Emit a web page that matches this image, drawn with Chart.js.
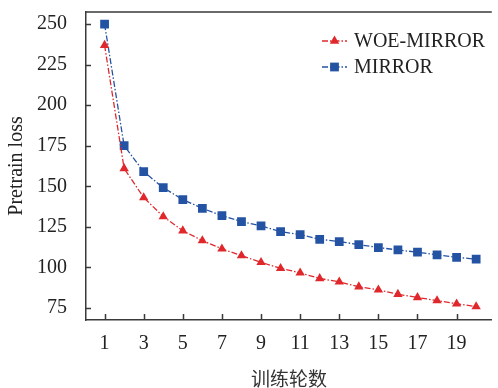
<!DOCTYPE html>
<html><head><meta charset="utf-8">
<script src="https://cdn.jsdelivr.net/npm/chart.js"></script>
<style>html,body{margin:0;padding:0;background:#fff}</style>
</head><body>
<canvas id="c" width="498" height="388" style="width:498px;height:388px;display:block"></canvas>
<script>
const epochs = [1,2,3,4,5,6,7,8,9,10,11,12,13,14,15,16,17,18,19,20];
const woeMirror = [237,161,143,131.3,122.6,116.5,111.4,107.2,103.1,99.4,96.6,93.1,91,88,86.1,83.4,81.4,79.5,77.5,75.8];
const mirror = [250,175,159,149.1,141.8,136.4,131.9,128.2,125.5,122,120.2,117.3,115.9,114,112.2,110.7,109.3,107.7,106.2,105];
const xTickValues = [1,3,5,7,9,11,13,15,17,19];
const yTickValues = [75,100,125,150,175,200,225,250];
const seriesNames = ['WOE-MIRROR','MIRROR'];
const xTitle = '训练轮数';
const yTitle = 'Pretrain loss';

const RED = '#e0282c', BLUE = '#2453a3';
const AXIS = '#3a3a3a';
const SERIF = '"Liberation Serif","Times New Roman",serif';

function drawMarker(ctx, style, x, y, r, color) {
  ctx.save();
  ctx.setLineDash([]);
  ctx.fillStyle = color;
  ctx.beginPath();
  if (style === 'rect') {
    const s = Math.SQRT1_2 * r;
    ctx.rect(x - s, y - s, 2*s, 2*s);
  } else {
    let rad = 0;
    ctx.moveTo(x + Math.sin(rad)*r, y - Math.cos(rad)*r);
    rad += 2*Math.PI/3;
    ctx.lineTo(x + Math.sin(rad)*r, y - Math.cos(rad)*r);
    rad += 2*Math.PI/3;
    ctx.lineTo(x + Math.sin(rad)*r, y - Math.cos(rad)*r);
    ctx.closePath();
  }
  ctx.fill();
  ctx.restore();
}

const decor = {
  id: 'decor',
  afterDraw(chart) {
    const {ctx, chartArea: a, scales} = chart;
    const x = scales.x, y = scales.y;
    ctx.save();
    ctx.setLineDash([]);
    ctx.strokeStyle = AXIS;
    ctx.lineWidth = 1.5;
    ctx.beginPath();
    ctx.moveTo(a.left - 0.75, a.top);
    ctx.lineTo(a.right, a.top);
    for (const v of yTickValues) {
      const py = Math.round(y.getPixelForValue(v)) + 0.5;
      ctx.moveTo(a.left, py); ctx.lineTo(a.left + 5, py);
    }
    for (const v of xTickValues) {
      const px = Math.round(x.getPixelForValue(v)) + 0.5;
      ctx.moveTo(px, a.bottom); ctx.lineTo(px, a.bottom - 6);
    }
    ctx.stroke();
    ctx.restore();

    const rows = [41, 67];
    chart.data.datasets.forEach((ds, i) => {
      const yy = rows[i];
      ctx.save();
      ctx.strokeStyle = ds.borderColor;
      ctx.lineWidth = 1.5;
      ctx.setLineDash(ds.borderDash);
      ctx.beginPath();
      ctx.moveTo(322, yy); ctx.lineTo(347, yy);
      ctx.stroke();
      ctx.restore();
      drawMarker(ctx, ds.pointStyle, 334.5, yy, ds.pointRadius, ds.pointBackgroundColor);
      ctx.save();
      ctx.fillStyle = '#222';
      ctx.font = '20px ' + SERIF;
      ctx.textBaseline = 'middle';
      ctx.fillText(ds.label, 354, yy + 1);
      ctx.restore();
    });
  }
};

new Chart(document.getElementById('c'), {
  type: 'line',
  data: {
    labels: epochs,
    datasets: [
      {
        label: seriesNames[0],
        data: epochs.map((e, i) => ({x: e, y: woeMirror[i]})),
        borderColor: RED,
        backgroundColor: RED,
        pointBackgroundColor: RED,
        pointBorderColor: RED,
        pointBorderWidth: 0,
        pointStyle: 'triangle',
        pointRadius: 5.4,
        borderWidth: 1.3,
        borderDash: [6, 2, 1.5, 2],
        tension: 0
      },
      {
        label: seriesNames[1],
        data: epochs.map((e, i) => ({x: e, y: mirror[i]})),
        borderColor: BLUE,
        backgroundColor: BLUE,
        pointBackgroundColor: BLUE,
        pointBorderColor: BLUE,
        pointBorderWidth: 0,
        pointStyle: 'rect',
        pointRadius: 6.2,
        borderWidth: 1.3,
        borderDash: [6, 2, 1.5, 2],
        tension: 0
      }
    ]
  },
  options: {
    responsive: false,
    animation: false,
    devicePixelRatio: 1,
    layout: {padding: {top: 12, right: 0, left: 0, bottom: 0}},
    plugins: {legend: {display: false}, tooltip: {enabled: false}},
    scales: {
      x: {
        type: 'linear',
        min: 0.05,
        max: 20.8,
        afterBuildTicks: s => { s.ticks = xTickValues.map(v => ({value: v})); },
        afterFit: s => { s.height = 68; s.paddingLeft = 0; s.paddingRight = 0; s.paddingTop = 0; s.paddingBottom = 0; },
        grid: {display: false, drawTicks: false},
        border: {display: true, color: AXIS, width: 1.5},
        ticks: {color: '#222', font: {family: SERIF, size: 20}, padding: 12, maxRotation: 0, autoSkip: false},
        title: {display: true, text: xTitle, color: '#333', font: {family: '"Noto Sans CJK SC", sans-serif', size: 19, lineHeight: 1}, padding: {top: 0, bottom: 0}}
      },
      y: {
        min: 67.5,
        max: 257.5,
        afterBuildTicks: s => { s.ticks = yTickValues.map(v => ({value: v})); },
        afterFit: s => { s.width = 86; s.paddingLeft = 0; s.paddingRight = 0; s.paddingTop = 0; s.paddingBottom = 0; },
        grid: {display: false, drawTicks: false},
        border: {display: true, color: AXIS, width: 1.5},
        ticks: {color: '#222', font: {family: SERIF, size: 20}, padding: 19},
        title: {display: true, text: yTitle, color: '#222', font: {family: SERIF, size: 20, lineHeight: 1}, padding: {top: 7, bottom: 0}}
      }
    }
  },
  plugins: [decor]
});
</script>
</body></html>
